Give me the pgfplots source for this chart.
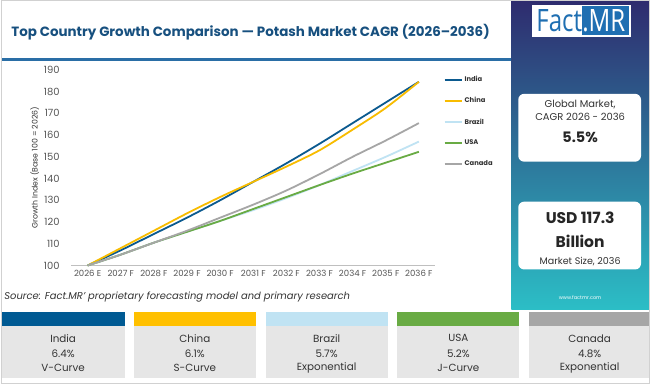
\documentclass[border=0pt]{standalone}
\usepackage{pgfplots}
\pgfplotsset{compat=1.18}
\usepackage{fontspec}
\setmainfont{Poppins}
\newfontfamily\logofont{Open Sans}
\definecolor{cIndia}{HTML}{0B5A8F}
\definecolor{cChina}{HTML}{F8BC00}
\definecolor{cBrazil}{HTML}{C0E3F3}
\definecolor{cUSA}{HTML}{69AB44}
\definecolor{cCanada}{HTML}{A6A6A6}
\definecolor{stIndia}{HTML}{005A93}
\definecolor{stChina}{HTML}{FFC000}
\definecolor{titleBlue}{HTML}{17507F}
\definecolor{titleLine}{HTML}{2A6EA6}
\definecolor{panTop}{HTML}{2E2B6E}
\definecolor{panMid}{HTML}{2260A0}
\definecolor{panBot}{HTML}{2CBEC6}
\definecolor{logoBlue}{HTML}{1F6FB2}
\definecolor{cardGray}{HTML}{E6E6E6}
\definecolor{txt}{HTML}{333333}
\definecolor{tick}{HTML}{555555}

\pgfplotstableread{
x India China Brazil USA Canada
0 100 100 100 100 100
1 107 108 105 105 105
2 114.5 116 110.5 110.5 110.5
3 122 124 115.5 115.5 116
4 130 131.5 120.5 120.5 122
5 138.5 138.5 125.5 126 128
6 147 145.5 131 131.5 134.5
7 156 153 137 137 142
8 165.5 162.5 143.5 142.3 150
9 175 172.5 150 147.3 157.5
10 184.5 184.5 157 152.3 165.5
}\growth

\begin{document}
\begin{tikzpicture}[x=1bp,y=1bp]
\fill[white] (0,0) rectangle (650,385);
% right panel
\shade[top color=panTop, middle color=panMid, bottom color=panBot] (511,75) rectangle (650,385);
% logo
\fill[white] (532,348) rectangle (631,380);
\fill[logoBlue] (582,349.5) rectangle (629,378.5);
\node[anchor=base west, text=logoBlue, inner sep=0, xscale=0.78, font=\logofont\fontsize{31}{31}\selectfont] at (536,353) {Fact};
\node[anchor=base west, text=white, inner sep=0, xscale=0.78, font=\logofont\fontsize{31}{31}\selectfont] at (582,353) {.MR};
% info cards
\fill[white, rounded corners=6] (518,223) rectangle (641,291);
\node[text=txt, font=\fontsize{10}{11}\selectfont] at (580,280) {Global Market,};
\node[text=txt, font=\fontsize{10}{11}\selectfont] at (580,268) {CAGR 2026 - 2036};
\node[text=black!85, font=\bfseries\fontsize{14.5}{15}\selectfont] at (580,247) {5.5\%};
\fill[white, rounded corners=6] (518,115) rectangle (641,183);
\node[text=black!85, font=\bfseries\fontsize{15.6}{16}\selectfont] at (580,167) {USD 117.3};
\node[text=black!85, font=\bfseries\fontsize{15.6}{16}\selectfont] at (580,143) {Billion};
\node[text=txt, font=\fontsize{9.6}{11}\selectfont] at (580,123) {Market Size, 2036};
\node[text=white, font=\fontsize{5}{6}\selectfont] at (580,87) {www.factmr.com};
% title
\node[anchor=west, inner sep=0, text=titleBlue, font=\bfseries\fontsize{13.5}{15}\selectfont] at (10,353) {Top Country Growth Comparison — Potash Market CAGR (2026–2036)};
\draw[titleLine, line width=2.5] (0,325.5) -- (511,325.5);
% source
\node[anchor=west, inner sep=0, text=txt, font=\itshape\fontsize{10}{11}\selectfont] at (3,87) {Source: Fact.MR' proprietary forecasting model and primary research};
% bottom cards
\foreach \xa/\xb/\col/\na/\pc/\cu in {0/124/stIndia/India/6.4\%/V-Curve, 133/255/stChina/China/6.1\%/S-Curve, 265/387/cBrazil/Brazil/5.7\%/Exponential, 397/519/cUSA/USA/5.2\%/J-Curve, 529/650/cCanada/Canada/4.8\%/Exponential}{
  \fill[\col] (\xa,58) rectangle (\xb,72);
  \fill[cardGray] (\xa,6) rectangle (\xb,58);
  \node[text=txt, font=\fontsize{10.4}{11}\selectfont] at ({(\xa+\xb)/2},46) {\na};
  \node[text=txt, font=\fontsize{10.4}{11}\selectfont] at ({(\xa+\xb)/2},30.5) {\pc};
  \node[text=txt, font=\fontsize{10.4}{11}\selectfont] at ({(\xa+\xb)/2},16) {\cu};
}
\draw[black!18, line width=1] (0.5,0.5) rectangle (649.5,384.5);
\begin{axis}[
  at={(70bp,119bp)}, anchor=south west,
  width=365bp, height=196bp, scale only axis,
  xmin=-0.5, xmax=10.5, ymin=100, ymax=190,
  clip=false,
  axis x line*=bottom, axis y line*=left,
  y axis line style={draw=none},
  x axis line style={draw=black!25, line width=0.8bp},
  xtick={0,...,10},
  xticklabels={2026 E,2027 F,2028 F,2029 F,2030 F,2031 F,2032 F,2033 F,2034 F,2035 F,2036 F},
  xtick style={draw=none},
  extra x ticks={-0.5,0.5,...,10.5},
  extra x tick labels={},
  extra x tick style={tick style={draw=black!25, line width=0.6bp}, major tick length=4bp, tick align=outside},
  ytick={100,110,...,190},
  ytick style={draw=none},
  /pgf/number format/assume math mode=true,
  tick label style={text=tick},
  yticklabel style={font=\fontsize{10}{11}\selectfont, xshift=-8bp},
  xticklabel style={font=\fontsize{8.6}{10}\selectfont, yshift=-1.5bp},
  ylabel={Growth Index (Base 100 = 2026)},
  ylabel style={text=txt, font=\fontsize{7.8}{9}\selectfont, yshift=-2bp},
  legend style={at={(1,1)}, anchor=north west, xshift=8bp, yshift=-4bp, draw=none, fill=none,
    font=\bfseries\fontsize{6.8}{8}\selectfont, text=txt, row sep=10.5bp, inner sep=0pt},
  legend cell align=left,
  legend image code/.code={\draw[#1, line width=2bp] (0bp,0bp) -- (17bp,0bp);},
  every axis plot/.append style={line width=1.8bp, smooth},
]
\addplot[cIndia] table[x=x,y=India] {\growth};
\addplot[cChina] table[x=x,y=China] {\growth};
\addplot[cBrazil] table[x=x,y=Brazil] {\growth};
\addplot[cUSA] table[x=x,y=USA] {\growth};
\addplot[cCanada] table[x=x,y=Canada] {\growth};
\legend{India,China,Brazil,USA,Canada}
\end{axis}
\end{tikzpicture}
\end{document}
